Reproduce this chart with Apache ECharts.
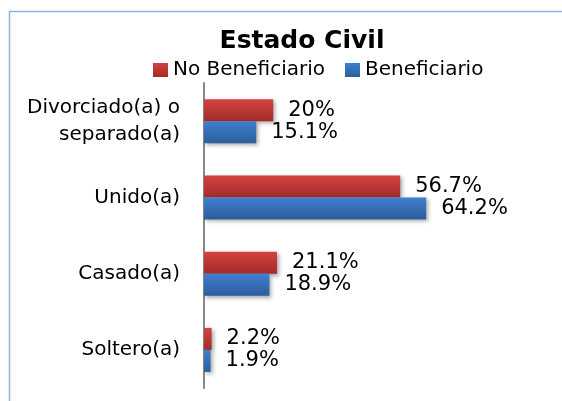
<!DOCTYPE html>
<html>
<head>
<meta charset="utf-8">
<script src="https://cdn.jsdelivr.net/npm/echarts@6/dist/echarts.min.js"></script>
<style>
  html, body { margin: 0; padding: 0; background: #fff; }
  #chart { width: 562px; height: 401px; }
</style>
</head>
<body>
<div id="chart"></div>
<script>
// data
const categories = ["Soltero(a)", "Casado(a)", "Unido(a)", "Divorciado(a) o\nseparado(a)"];
const noBeneficiario = [2.2, 21.1, 56.7, 20];
const beneficiario = [1.9, 18.9, 64.2, 15.1];
const noBenLabels = ["2.2%", "21.1%", "56.7%", "20%"];
const benLabels = ["1.9%", "18.9%", "64.2%", "15.1%"];

const font = "DejaVu Sans";

const redFill = new echarts.graphic.LinearGradient(0, 0, 0, 1, [
  { offset: 0, color: "#d4433f" },
  { offset: 1, color: "#a22c2a" }
]);
const blueFill = new echarts.graphic.LinearGradient(0, 0, 0, 1, [
  { offset: 0, color: "#3f80cf" },
  { offset: 1, color: "#2c5d9c" }
]);

const chart = echarts.init(document.getElementById("chart"));

const barShadow = {
  shadowColor: "rgba(0,0,0,0.35)",
  shadowBlur: 4,
  shadowOffsetX: 2,
  shadowOffsetY: 2
};

const option = {
  backgroundColor: "#fff",
  animation: false,
  textStyle: { fontFamily: font },
  graphic: [
    {
      type: "rect",
      shape: { x: 9.5, y: 11.5, width: 600, height: 420 },
      style: { fill: "none", stroke: "#8fb2de", lineWidth: 1.5 },
      silent: true
    }
  ],
  title: {
    text: "Estado Civil",
    left: 297,
    textAlign: "center",
    top: 24,
    textStyle: { fontFamily: font, fontSize: 25, fontWeight: "bold", color: "#000" }
  },
  legend: {
    top: 60,
    left: 153,
    padding: 0,
    itemWidth: 15,
    itemHeight: 14,
    itemGap: 20,
    icon: "rect",
    textStyle: { fontFamily: font, fontSize: 20, color: "#000" },
    data: [
      { name: "No Beneficiario", itemStyle: { color: redFill } },
      { name: "Beneficiario", itemStyle: { color: blueFill } }
    ]
  },
  grid: { left: 204, top: 83, width: 346, height: 305 },
  xAxis: {
    type: "value",
    min: 0,
    max: 100,
    show: false
  },
  yAxis: {
    type: "category",
    data: categories,
    axisLine: { show: true, lineStyle: { color: "#888", width: 2 } },
    axisTick: { show: false },
    axisLabel: {
      color: "#000",
      fontFamily: font,
      fontSize: 20,
      margin: 24,
      lineHeight: 27
    }
  },
  series: [
    {
      name: "No Beneficiario",
      type: "bar",
      data: noBeneficiario,
      barWidth: 22,
      barGap: "0%",
      itemStyle: Object.assign({ color: redFill }, barShadow),
      label: {
        show: true,
        position: "right",
        distance: 15,
        color: "#000",
        fontFamily: font,
        fontSize: 21,
        formatter: (p) => noBenLabels[p.dataIndex]
      }
    },
    {
      name: "Beneficiario",
      type: "bar",
      data: beneficiario,
      barWidth: 22,
      barGap: "0%",
      itemStyle: Object.assign({ color: blueFill }, barShadow),
      label: {
        show: true,
        position: "right",
        distance: 15,
        color: "#000",
        fontFamily: font,
        fontSize: 21,
        formatter: (p) => benLabels[p.dataIndex]
      }
    }
  ]
};

chart.setOption(option);
</script>
</body>
</html>
